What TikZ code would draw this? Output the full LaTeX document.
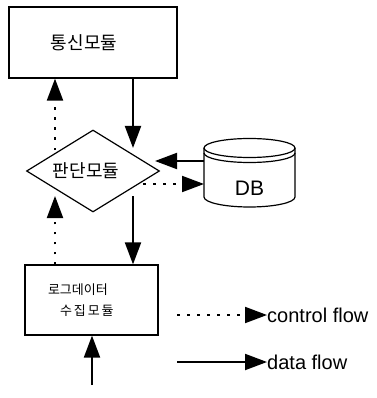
\documentclass[tikz,border=0pt]{standalone}
\usepackage{fontspec}
\setmainfont{Liberation Sans}
\newfontfamily\krfont{Noto Sans CJK KR}
\usetikzlibrary{arrows.meta,shapes.geometric}

\begin{document}
\begin{tikzpicture}
	[x=1pt,y=-1pt,
	modbox/.style={rectangle,draw,line width=1.2pt,inner sep=0pt},
	judgebox/.style={diamond,draw,line width=1.2pt,inner sep=0pt,aspect=1.6,minimum width=133pt,minimum height=82pt},
	data/.style={line width=2pt,-{Triangle[length=22pt,width=16pt]}},
	ctrl/.style={line width=2pt,dash pattern=on 2.5pt off 7.5pt,-{Triangle[length=22pt,width=16pt]}},
	legend/.style={font=\fontsize{20}{22}\selectfont,inner sep=0pt}]
	\useasboundingbox (0,0) rectangle (376,398);
	% modules
	\node[modbox,minimum width=168pt,minimum height=71pt,font=\krfont\fontsize{18}{20}\selectfont] (comm) at (93,42.5) {통신모듈\hspace*{18pt}};
	\node[judgebox,font=\krfont\fontsize{18}{20}\selectfont] (judge) at (93,171) {판단모듈\hspace*{14pt}};
	\node[modbox,minimum width=133pt,minimum height=70pt,text width=87pt,inner xsep=23pt,align=left,font=\krfont\fontsize{13}{21}\selectfont] (log) at (91.5,300)
	{로그데이터\\\hspace*{12pt}{\addfontfeature{LetterSpace=15}수집모듈}};
	% database
	\draw[line width=1.2pt] (249.5,148) ellipse (45.5 and 9.5);
	\draw[line width=1.2pt] (204,153) arc (180:0:45.5 and 9.5);
	\draw[line width=1.2pt] (204,148) -- (204,197) arc (180:0:45.5 and 10) -- (295,148);
	\node[legend,font=\fontsize{21}{22}\selectfont] (db) at (249.5,188) {DB};
	% connector ends
	\coordinate (jtop) at (133,148);
	\coordinate (jtopl) at (55,150);
	\coordinate (jright) at (155,161);
	\coordinate (jrout) at (143,184);
	\coordinate (jbot) at (133,196);
	\coordinate (jbotl) at (55,196);
	\coordinate (dbin) at (204,161);
	\coordinate (dbout) at (204,184);
	\coordinate (feed) at (92,385);
	\draw[data] (comm.south -| jtop) -- (jtop);
	\draw[ctrl] (jtopl) -- (comm.south -| jtopl);
	\draw[data] (dbin) -- (jright);
	\draw[ctrl] (jrout) -- (dbout);
	\draw[data] (jbot) -- (log.north -| jbot);
	\draw[ctrl] (log.north -| jbotl) -- (jbotl);
	\draw[data] (feed) -- (log.south -| feed);
	% legend
	\coordinate (ctrlkey) at (177,315);
	\coordinate (datakey) at (177,362);
	\node[legend,anchor=west] (ctrltxt) at (267,315) {control flow};
	\node[legend,anchor=west] (datatxt) at (267,362) {data flow};
	\draw[ctrl] (ctrlkey) -- (ctrltxt.west);
	\draw[data] (datakey) -- (datatxt.west);
\end{tikzpicture}
\end{document}
